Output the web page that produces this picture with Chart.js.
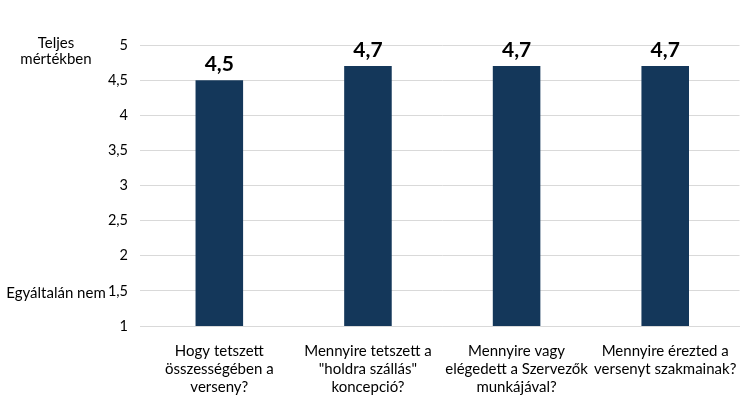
<!DOCTYPE html>
<html>
<head>
<meta charset="utf-8">
<script src="https://cdn.jsdelivr.net/npm/chart.js@4/dist/chart.umd.min.js"></script>
<style>
  html, body { margin: 0; padding: 0; background: #fff; }
  #wrap { width: 745px; height: 397px; }
</style>
</head>
<body>
<div id="wrap"><canvas id="chart"></canvas></div>
<script>
// adatok
const categories = [
    ['Hogy tetszett', 'összességében a', 'verseny?'],
    ['Mennyire tetszett a', '"holdra szállás"', 'koncepció?'],
    ['Mennyire vagy', 'elégedett a Szervezők', 'munkájával?'],
    ['Mennyire érezted a', 'versenyt szakmainak?']
];
const values = [4.5, 4.7, 4.7, 4.7];
const yTicks = [1, 1.5, 2, 2.5, 3, 3.5, 4, 4.5, 5];
const scaleNotes = [
    { value: 5, lines: ['Teljes', 'mértékben'] },
    { value: 1.5, lines: ['Egyáltalán nem'] }
];

const fmt = v => String(v).replace('.', ',');

// értékek a oszlopok fölé
const valueLabels = {
    id: 'valueLabels',
    afterDatasetsDraw(chart) {
        const ctx = chart.ctx;
        const meta = chart.getDatasetMeta(0);
        ctx.save();
        ctx.font = 'bold 21px Lato';
        ctx.fillStyle = '#000';
        ctx.textAlign = 'center';
        ctx.textBaseline = 'bottom';
        meta.data.forEach((bar, i) => {
            ctx.fillText(fmt(values[i]), bar.x, bar.y - 5);
        });
        ctx.restore();
    }
};

// skála szélső értékeinek magyarázata a bal oldalon
const sideNotes = {
    id: 'sideNotes',
    afterDraw(chart) {
        const ctx = chart.ctx;
        const y = chart.scales.y;
        ctx.save();
        ctx.font = '15px Lato';
        ctx.fillStyle = '#000';
        ctx.textAlign = 'center';
        ctx.textBaseline = 'middle';
        scaleNotes.forEach(n => {
            const py = y.getPixelForValue(n.value);
            if (n.lines.length === 1) {
                ctx.fillText(n.lines[0], 56, py + 2);
            } else {
                n.lines.forEach((t, k) => ctx.fillText(t, 56, py - 2 + k * 16));
            }
        });
        ctx.restore();
    }
};

new Chart(document.getElementById('chart'), {
    type: 'bar',
    data: {
        labels: categories,
        datasets: [{
            data: values,
            backgroundColor: '#14375a',
            categoryPercentage: 1,
            barPercentage: 0.32
        }]
    },
    options: {
        responsive: true,
        maintainAspectRatio: false,
        animation: false,
        layout: { padding: { top: 45, right: 5, left: 0, bottom: 0 } },
        plugins: { legend: { display: false }, tooltip: { enabled: false } },
        scales: {
            x: {
                grid: { display: false },
                border: { color: '#d9d9d9' },
                ticks: {
                    color: '#000',
                    font: { family: 'Lato', size: 15 },
                    maxRotation: 0,
                    autoSkip: false,
                    padding: 8
                },
                afterFit(s) { s.height = 71; }
            },
            y: {
                min: 1,
                max: 5,
                afterBuildTicks(s) { s.ticks = yTicks.map(v => ({ value: v })); },
                grid: { color: '#d9d9d9', tickLength: 5 },
                border: { display: false },
                ticks: {
                    color: '#000',
                    font: { family: 'Lato', size: 14.5 },
                    padding: 12,
                    callback: v => fmt(v)
                },
                afterFit(s) { s.width = 145; }
            }
        }
    },
    plugins: [valueLabels, sideNotes]
});
</script>
</body>
</html>
